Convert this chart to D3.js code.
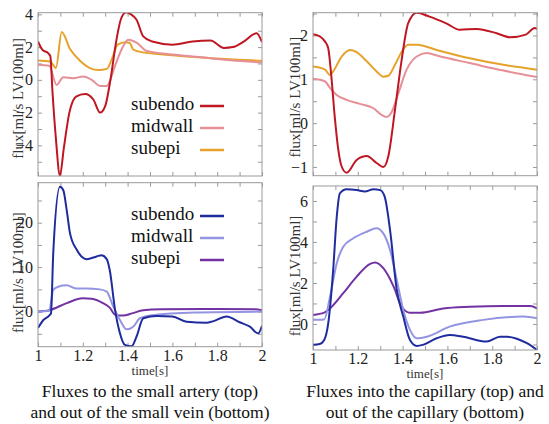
<!DOCTYPE html>
<meta charset="utf-8">
<html>
<head>
<script src="https://d3js.org/d3.v7.min.js"></script>
<style>
  body { margin: 0; background: #fff; }
</style>
</head>
<body>
<div id="viz"></div>
<script>
// series as [time, flux] pairs
const arterySubendo = [[1.0,2.34],[1.02,1.83],[1.045,1.63],[1.055,1.45],[1.065,-0.8],[1.08,-3.6],[1.098,-5.85],[1.115,-4.2],[1.14,-2.0],[1.17,-1.02],[1.21,-0.86],[1.247,-1.2],[1.277,-2.0],[1.3,-1.6],[1.321,-0.2],[1.351,2.5],[1.37,3.7],[1.393,4.12],[1.415,4.0],[1.44,3.67],[1.47,2.65],[1.51,2.34],[1.6,2.15],[1.69,2.34],[1.77,2.4],[1.83,1.95],[1.87,2.0],[1.92,2.35],[1.976,2.85],[2.0,2.3]];
const arteryMidwall = [[1.0,0.92],[1.05,0.86],[1.083,-0.31],[1.113,0.16],[1.16,0.10],[1.2,0.2],[1.24,0.0],[1.277,-0.37],[1.307,-0.37],[1.344,0.86],[1.374,1.88],[1.403,2.45],[1.44,2.28],[1.485,1.77],[1.6,1.55],[1.72,1.39],[1.86,1.2],[2.0,1.06]];
const arterySubepi = [[1.0,1.18],[1.055,1.12],[1.08,0.73],[1.106,2.92],[1.143,1.88],[1.1875,1.17],[1.232,0.72],[1.27,0.6],[1.307,0.67],[1.336,1.5],[1.355,2.15],[1.39,2.3],[1.41,2.25],[1.425,1.85],[1.447,1.74],[1.6,1.5],[1.8,1.3],[2.0,1.16]];

const veinSubendo = [[1.0,-3.7],[1.024,-1.9],[1.05,-0.9],[1.058,-0.4],[1.068,13.1],[1.098,28.1],[1.113,27.3],[1.128,22.9],[1.143,17.6],[1.173,13.9],[1.217,11.8],[1.262,12.4],[1.284,12.7],[1.307,11.8],[1.32,9.4],[1.344,0.4],[1.366,-4.9],[1.388,-7.5],[1.418,-7.8],[1.44,-5.6],[1.47,-1.5],[1.53,-1.0],[1.6,-1.1],[1.664,-2.3],[1.753,-2.5],[1.78,-2.2],[1.842,-1.1],[1.9,-2.4],[1.946,-3.4],[1.983,-4.9],[2.0,-3.2]];
const veinMidwall = [[1.0,0.0],[1.05,0.2],[1.068,4.9],[1.09,5.6],[1.128,5.9],[1.17,5.2],[1.217,5.2],[1.277,5.0],[1.307,4.5],[1.336,1.1],[1.366,-1.9],[1.396,-4.0],[1.425,-3.4],[1.455,-1.5],[1.51,-0.8],[1.7,-0.2],[2.0,0.0]];
const veinSubepi = [[1.0,0.0],[1.05,0.3],[1.128,1.9],[1.2,3.0],[1.24,2.9],[1.29,1.9],[1.32,0.9],[1.344,-0.7],[1.38,-0.9],[1.42,-0.4],[1.47,0.3],[1.55,0.5],[1.8,0.6],[1.97,0.5],[2.0,0.3]];

const capInSubendo = [[1.0,2.03],[1.03,1.98],[1.054,1.86],[1.068,1.71],[1.082,1.06],[1.097,0.15],[1.113,-0.61],[1.128,-0.99],[1.15,-1.13],[1.195,-0.84],[1.24,-0.75],[1.284,-0.91],[1.314,-1.0],[1.336,-0.76],[1.366,0.30],[1.396,1.45],[1.425,2.28],[1.463,2.52],[1.52,2.43],[1.597,2.27],[1.655,2.13],[1.73,2.15],[1.82,2.05],[1.88,1.96],[1.95,2.02],[1.99,2.17],[2.0,2.15]];
const capInMidwall = [[1.0,1.01],[1.054,0.95],[1.075,0.81],[1.104,0.65],[1.15,0.53],[1.21,0.44],[1.27,0.34],[1.306,0.19],[1.328,0.14],[1.35,0.24],[1.381,0.68],[1.418,1.22],[1.463,1.52],[1.508,1.60],[1.56,1.53],[1.7,1.37],[1.85,1.2],[2.0,1.05]];
const capInSubepi = [[1.0,1.29],[1.054,1.22],[1.075,1.10],[1.09,1.18],[1.128,1.52],[1.165,1.67],[1.195,1.62],[1.24,1.41],[1.284,1.18],[1.314,1.06],[1.336,1.08],[1.366,1.33],[1.396,1.63],[1.425,1.79],[1.463,1.79],[1.552,1.67],[1.7,1.48],[1.85,1.33],[2.0,1.22]];

const capOutSubendo = [[1.0,-1.02],[1.03,-0.98],[1.05,-0.78],[1.068,0.03],[1.09,2.63],[1.106,5.23],[1.12,6.37],[1.15,6.57],[1.195,6.53],[1.232,6.46],[1.27,6.57],[1.30,6.53],[1.32,6.21],[1.344,4.58],[1.374,1.66],[1.403,0.36],[1.433,-0.78],[1.463,-1.07],[1.49,-1.02],[1.552,-0.7],[1.61,-0.54],[1.67,-0.62],[1.775,-0.86],[1.835,-0.62],[1.866,-0.62],[1.91,-0.72],[1.955,-0.94],[2.0,-1.27]];
const capOutMidwall = [[1.0,0.2],[1.05,0.22],[1.076,1.33],[1.106,2.96],[1.135,3.77],[1.18,4.18],[1.24,4.5],[1.284,4.67],[1.314,4.42],[1.344,3.61],[1.374,2.15],[1.403,0.68],[1.433,-0.29],[1.463,-0.7],[1.508,-0.62],[1.61,-0.13],[1.76,0.2],[1.94,0.36],[2.0,0.28]];
const capOutSubepi = [[1.0,0.44],[1.05,0.55],[1.076,0.76],[1.135,1.5],[1.195,2.31],[1.255,2.93],[1.277,3.0],[1.314,2.72],[1.36,1.82],[1.396,0.84],[1.433,0.55],[1.478,0.55],[1.582,0.76],[1.7,0.84],[1.85,0.88],[1.97,0.88],[2.0,0.76]];

const legendNames = ["subendo", "midwall", "subepi"];
const redColors = ["#bf1722", "#e68f97", "#e6a22a"];
const blueColors = ["#1f2c9e", "#9495e2", "#7232a2"];

const xTickLabels = [1, 1.2, 1.4, 1.6, 1.8, 2];
const yLabelText = "flux[ml/s LV100ml]";
const xLabelText = "time[s]";
const captionLeft = ["Fluxes to the small artery  (top)", "and out of the small vein (bottom)"];
const captionRight = ["Fluxes into the capillary  (top) and", "out of the capillary  (bottom)"];

const serifFont = '"Liberation Serif", "Times New Roman", serif';
const width = 549, height = 424;
const svg = d3.select("#viz").append("svg")
  .attr("width", width).attr("height", height)
  .style("font-family", serifFont);

const panels = [
  { id: "a", left: 38, top: 12.7, w: 224, h: 163.3, y: [-5.87, 4.1], yTicks: [-4, -2, 0, 2, 4], yMinor: 1,
    series: [arterySubendo, arteryMidwall, arterySubepi], colors: redColors, legend: { x: 131, y: 104 },
    xLabels: false, labX: -15.5, labDy: 4 },
  { id: "b", left: 38, top: 182.7, w: 224, h: 164, y: [-7.9, 29], yTicks: [0, 10, 20], yMinor: 5,
    series: [veinSubendo, veinMidwall, veinSubepi], colors: blueColors, legend: { x: 131, y: 214 },
    xLabels: true, labX: -15.5, labDy: 8 },
  { id: "c", left: 313, top: 12.7, w: 224, h: 163, y: [-1.2, 2.52], yTicks: [-1, 0, 1, 2], yMinor: 0.5,
    series: [capInSubendo, capInMidwall, capInSubepi], colors: redColors, legend: null,
    xLabels: false, labX: -13.5, labDy: 3 },
  { id: "d", left: 313, top: 186, w: 224, h: 164, y: [-1.27, 6.73], yTicks: [0, 2, 4, 6], yMinor: 1,
    series: [capOutSubendo, capOutMidwall, capOutSubepi], colors: blueColors, legend: null,
    xLabels: true, labX: -13.5, labDy: 8 }
];

const frameColor = "#9a9a9a";

panels.forEach(p => {
  const g = svg.append("g").attr("transform", `translate(${p.left},${p.top})`);
  const x = d3.scaleLinear([1, 2], [0, p.w]);
  const y = d3.scaleLinear(p.y, [p.h, 0]);

  g.append("clipPath").attr("id", "clip-" + p.id)
    .append("rect").attr("width", p.w).attr("height", p.h);

  // small ticks pointing inward on all four sides
  const xMinor = d3.range(1, 2.0001, 0.1);
  const yMinor = d3.range(Math.ceil(p.y[0] / p.yMinor) * p.yMinor, p.y[1] + 1e-6, p.yMinor);

  const style = sel => {
    sel.select(".domain").remove();
    sel.selectAll("line").attr("stroke", frameColor);
  };
  g.append("g").attr("transform", `translate(0,${p.h})`)
    .call(d3.axisBottom(x).tickValues(xMinor).tickSize(-4).tickFormat("")).call(style);
  g.append("g")
    .call(d3.axisTop(x).tickValues(xMinor).tickSize(-4).tickFormat("")).call(style);
  g.append("g")
    .call(d3.axisLeft(y).tickValues(yMinor).tickSize(-4).tickFormat("")).call(style);
  g.append("g").attr("transform", `translate(${p.w},0)`)
    .call(d3.axisRight(y).tickValues(yMinor).tickSize(-4).tickFormat("")).call(style);

  // y tick labels
  g.append("g")
    .call(d3.axisLeft(y).tickValues(p.yTicks).tickSize(0).tickPadding(5).tickFormat(d3.format("d")))
    .attr("font-family", null)
    .call(sel => sel.select(".domain").remove())
    .selectAll("text")
    .attr("font-size", 16).attr("fill", "#222");

  if (p.xLabels) {
    g.append("g").attr("transform", `translate(0,${p.h})`)
      .call(d3.axisBottom(x).tickValues(xTickLabels).tickSize(0).tickPadding(3).tickFormat(d => d3.format("")(d)))
      .attr("font-family", null)
      .call(sel => sel.select(".domain").remove())
      .selectAll("text")
      .attr("font-size", 16).attr("fill", "#222");
    g.append("text")
      .attr("x", p.w / 2).attr("y", p.h + 28)
      .attr("text-anchor", "middle").attr("font-size", 13).attr("fill", "#333")
      .text(xLabelText);
  }

  // y axis title
  g.append("text")
    .attr("transform", `translate(${p.labX},${p.h / 2 + p.labDy}) rotate(-90)`)
    .attr("text-anchor", "middle").attr("font-size", 15).attr("fill", "#333")
    .text(yLabelText);

  const line = d3.line()
    .x(d => x(d[0])).y(d => y(d[1]))
    .curve(d3.curveMonotoneX);

  const lines = g.append("g").attr("clip-path", `url(#clip-${p.id})`);
  // subepi first so subendo ends up on top
  [2, 1, 0].forEach(i => {
    lines.append("path")
      .attr("d", line(p.series[i]))
      .attr("fill", "none")
      .attr("stroke", p.colors[i])
      .attr("stroke-width", 2)
      .attr("stroke-linejoin", "round");
  });

  g.append("rect")
    .attr("width", p.w).attr("height", p.h)
    .attr("fill", "none").attr("stroke", frameColor).attr("stroke-width", 1);

  if (p.legend) {
    const lg = g.append("g").attr("transform", `translate(${p.legend.x - p.left},${p.legend.y - p.top})`);
    legendNames.forEach((name, i) => {
      lg.append("text")
        .attr("x", 0).attr("y", i * 22 + 6)
        .attr("font-size", 19).attr("fill", "#111")
        .text(name);
      lg.append("line")
        .attr("x1", 69).attr("x2", 93)
        .attr("y1", i * 22 + 2).attr("y2", i * 22 + 2)
        .attr("stroke", p.colors[i]).attr("stroke-width", 2.5);
    });
  }
});

// captions under each column
[[150, captionLeft], [425, captionRight]].forEach(([cx, lines]) => {
  lines.forEach((t, i) => {
    svg.append("text")
      .attr("x", cx).attr("y", 397 + i * 21)
      .attr("text-anchor", "middle").attr("font-size", 17.5).attr("fill", "#111")
      .text(t.replace(/  /g, " "));
  });
});

// serif everywhere
svg.selectAll("text").style("font-family", serifFont);
</script>
</body>
</html>
